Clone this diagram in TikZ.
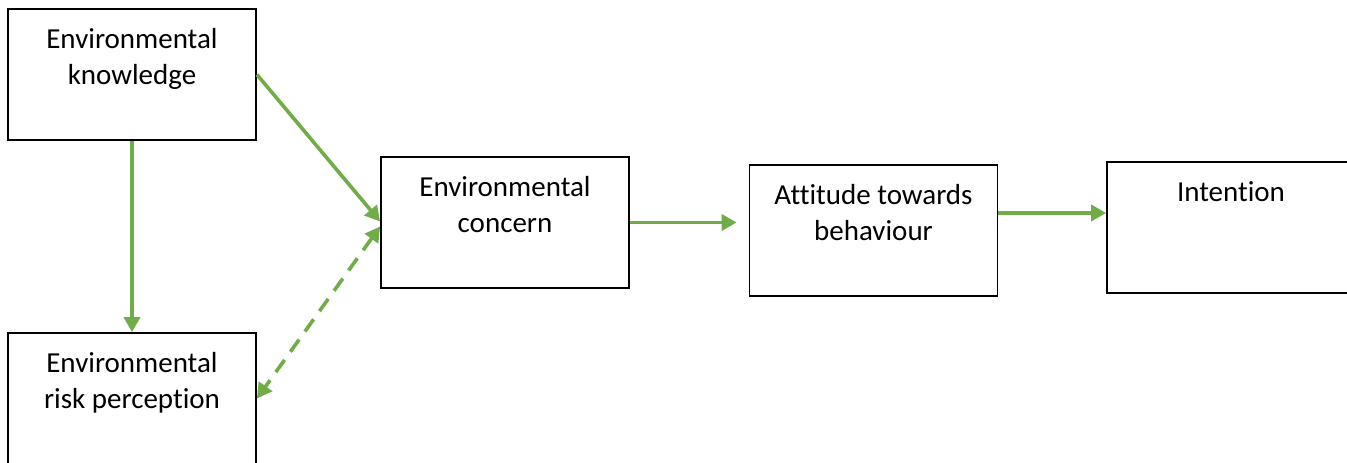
\documentclass[tikz,border=0pt]{standalone}
\usepackage{fontspec}
\setmainfont[Ligatures=NoCommon]{Carlito}
\usetikzlibrary{arrows.meta}
\definecolor{linkgreen}{HTML}{70AD47}
\tikzset{
  box/.style={draw=black, line width=1.8pt, inner sep=0pt, fill=white,
    font=\fontsize{29pt}{36pt}\selectfont},
  link/.style={draw=linkgreen, line width=3.6pt,
    -{Triangle[length=15pt,width=16pt]}, linkgreen},
  duallink/.style={link, {Triangle[length=15pt,width=16pt]}-{Triangle[length=15pt,width=16pt]},
    dash pattern=on 15pt off 10pt}
}
\newcommand{\boxtext}[1]{\parbox[c][131pt][t]{248pt}{\centering\rule{0pt}{39pt}#1}}
\begin{document}
\begin{tikzpicture}[x=1pt,y=-1pt]
  \useasboundingbox (0,0) rectangle (1347,463);
  \clip (0,0) rectangle (1347,463);

  % factor boxes
  \node[box] (know) at (132,74.5) {\boxtext{Environmental\\knowledge}};
  \node[box] (risk) at (132,398.5) {\boxtext{Environmental\\risk perception}};
  \node[box] (conc) at (505,222.5) {\boxtext{Environmental\\concern}};
  \node[box] (att)  at (873.5,230.5) {\boxtext{Attitude towards\\behaviour}};
  \node[box] (intn) at (1231,227.5) {\boxtext{Intention}};

  % relations
  \draw[link] (know.east) -- ([yshift=1pt]conc.west);
  \draw[link] (know.south) -- (risk.north);
  \draw[duallink] ([yshift=-4pt]conc.west) -- (risk.east);
  \draw[link, shorten >=12pt] (conc.east) -- (conc.east -| att.west);
  \draw[link] ([yshift=17.5pt]att.east) -- ([yshift=17.5pt]att.east -| intn.west);
\end{tikzpicture}
\end{document}
